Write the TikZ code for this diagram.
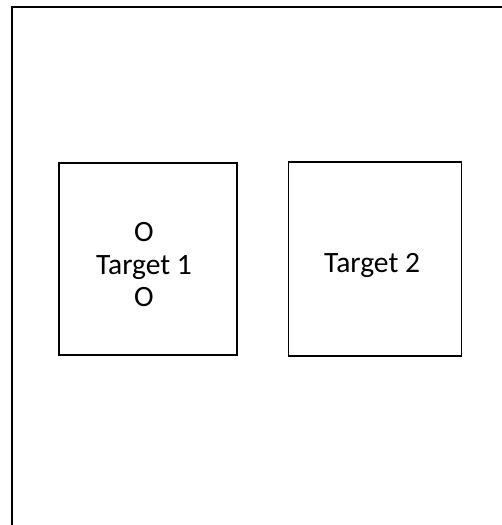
\documentclass[tikz,border=0pt]{standalone}
\usepackage{fontspec}
\setmainfont{Carlito}
\usetikzlibrary{positioning}

\begin{document}
\begin{tikzpicture}[x=1pt,y=-1pt,
    target/.style={draw,line width=1.6pt,inner sep=0pt},
    caption/.style={align=center,inner sep=0pt,yshift=-6pt,
      font=\fontsize{29.5}{32.5}\selectfont}]
  \useasboundingbox (0,0) rectangle (502,525);
  \clip (0,0) rectangle (502,525);
  \draw[line width=2.2pt] (12,7) rectangle (560,580);
  \node[target,minimum width=178pt,minimum height=192pt] (target1) at (148,259) {};
  \node[target,minimum width=173pt,minimum height=194pt,right=50pt of target1] (target2) {};
  \node[caption,xshift=-4pt] (text1) at (target1) {O\\Target 1\\O};
  \node[caption,xshift=-3pt] (text2) at (target2) {Target 2};
\end{tikzpicture}
\end{document}
